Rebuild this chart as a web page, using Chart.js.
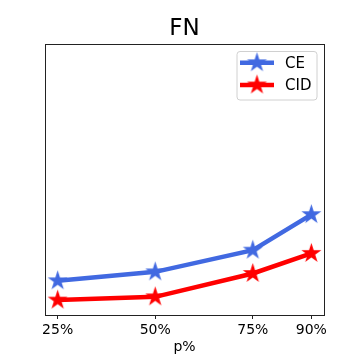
<!DOCTYPE html>
<html>
<head>
<meta charset="utf-8">
<script src="https://cdn.jsdelivr.net/npm/chart.js@4/dist/chart.umd.min.js"></script>
<style>
  html,body{margin:0;padding:0;background:#fff}
  #wrap{width:360px;height:360px}
</style>
</head>
<body>
<div id="wrap"><canvas id="chart" width="360" height="360"></canvas></div>
<script>
// valores (eje y sin etiquetas, escala 0..1)
const P_VALUES = [25, 50, 75, 90];
const TICK_LABELS = ["25%", "50%", "75%", "90%"];
const CE_VALUES = [0.126, 0.159, 0.239, 0.370];
const CID_VALUES = [0.055, 0.067, 0.153, 0.227];

const FONT = "'DejaVu Sans', sans-serif";

function starCanvas(color, r){
  const s = Math.ceil(r*2 + 2);
  const c = document.createElement('canvas');
  c.width = s; c.height = s;
  const g = c.getContext('2d');
  g.beginPath();
  for(let i=0;i<10;i++){
    const rad = i%2===0 ? r : r*0.382;
    const a = -Math.PI/2 + i*Math.PI/5;
    g.lineTo(s/2 + rad*Math.cos(a), s/2 + rad*Math.sin(a));
  }
  g.closePath();
  g.fillStyle = color;
  g.fill();
  return c;
}

const SERIES = [
  {label:"CE", data:CE_VALUES, color:"#4169E1"},
  {label:"CID", data:CID_VALUES, color:"#FF0000"}
];
SERIES.forEach(s => s.star = starCanvas(s.color, 10.5));

// marco completo (spines) por encima de las líneas
const framePlugin = {
  id:'frame',
  afterDatasetsDraw(chart){
    const {ctx, chartArea:a} = chart;
    ctx.save();
    ctx.strokeStyle = '#222';
    ctx.lineWidth = 1;
    ctx.strokeRect(Math.round(a.left)+0.5, Math.round(a.top)+0.5, Math.round(a.right-a.left), Math.round(a.bottom-a.top));
    ctx.restore();
  }
};

// leyenda al estilo matplotlib: línea + estrella
const legendPlugin = {
  id:'mplLegend',
  afterDraw(chart){
    const ctx = chart.ctx;
    const x = 237, y = 51.5, w = 80, h = 48.5, r = 3;
    ctx.save();
    ctx.beginPath();
    ctx.moveTo(x+r, y);
    ctx.arcTo(x+w, y, x+w, y+h, r);
    ctx.arcTo(x+w, y+h, x, y+h, r);
    ctx.arcTo(x, y+h, x, y, r);
    ctx.arcTo(x, y, x+w, y, r);
    ctx.closePath();
    ctx.fillStyle = 'rgba(255,255,255,0.8)';
    ctx.fill();
    ctx.strokeStyle = '#d0d0d0';
    ctx.lineWidth = 1;
    ctx.stroke();
    chart.data.datasets.forEach((ds, i) => {
      const yy = 62.7 + i*22.3;
      ctx.beginPath();
      ctx.moveTo(240, yy);
      ctx.lineTo(274, yy);
      ctx.strokeStyle = ds.borderColor;
      ctx.lineWidth = 4.5;
      ctx.stroke();
      const st = ds.pointStyle;
      ctx.drawImage(st, 257 - st.width/2, yy - st.height/2);
      ctx.fillStyle = '#000';
      ctx.font = "15px " + FONT;
      ctx.textBaseline = 'middle';
      ctx.textAlign = 'left';
      ctx.fillText(ds.label, 285, yy + 1);
    });
    ctx.restore();
  }
};

new Chart(document.getElementById('chart'), {
  type:'line',
  data:{
    datasets: SERIES.map(s => ({
      label: s.label,
      data: P_VALUES.map((p, i) => ({x:p, y:s.data[i]})),
      borderColor: s.color,
      backgroundColor: s.color,
      borderWidth: 4.5,
      pointStyle: s.star,
      pointRadius: 10,
      tension: 0,
      clip: false
    }))
  },
  options:{
    responsive:false,
    devicePixelRatio:1,
    animation:false,
    layout:{ padding:{left:45, right:36, top:0, bottom:0} },
    plugins:{
      legend:{display:false},
      tooltip:{enabled:false},
      title:{
        display:true,
        text:'FN',
        fullSize:false,
        color:'#000',
        font:{family:FONT, size:23, weight:'normal', lineHeight:1.2},
        padding:{top:15, bottom:1}
      }
    },
    scales:{
      x:{
        type:'linear',
        min:21.75,
        max:93.25,
        afterBuildTicks:(scale)=>{ scale.ticks = P_VALUES.map(v=>({value:v})); },
        afterFit:(scale)=>{ scale.height = 45; },
        ticks:{
          autoSkip:false,
          maxRotation:0,
          color:'#000',
          padding:3,
          font:{family:FONT, size:14},
          callback:(v)=> TICK_LABELS[P_VALUES.indexOf(v)]
        },
        grid:{display:true, drawOnChartArea:false, tickLength:4, color:'#222'},
        border:{display:false},
        title:{display:true, text:'p%', color:'#000', font:{family:FONT, size:14}, padding:{top:0, bottom:4}}
      },
      y:{
        min:0,
        max:1,
        ticks:{display:false},
        grid:{display:false},
        border:{display:false},
        afterFit:(scale)=>{ scale.width = 0; }
      }
    }
  },
  plugins:[framePlugin, legendPlugin]
});
</script>
</body>
</html>
